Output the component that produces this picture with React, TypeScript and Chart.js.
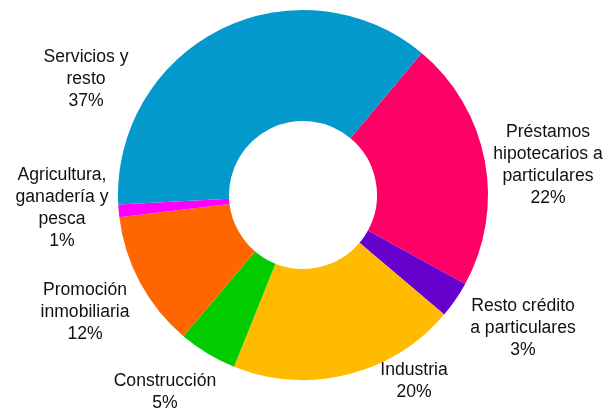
import React, { useEffect, useRef } from "react";
import { Chart, registerables } from "chart.js";

Chart.register(...registerables);

// Data (clockwise starting from the slice right after the top)
const categories: string[][] = [
  ["Préstamos", "hipotecarios a", "particulares"],
  ["Resto crédito", "a particulares"],
  ["Industria"],
  ["Construcción"],
  ["Promoción", "inmobiliaria"],
  ["Agricultura,", "ganadería y", "pesca"],
  ["Servicios y", "resto"],
];
const shares: number[] = [21.9, 3.2, 19.9, 5.1, 11.9, 1.1, 36.9];
const colors: string[] = ["#FF0066", "#6600CC", "#FFBB00", "#00CC00", "#FF6600", "#FF00FF", "#0399CC"];

// Label block centers (pixels in canvas)
const labelPos: [number, number][] = [
  [548, 165],
  [523, 328],
  [414, 381],
  [165, 392],
  [85, 312],
  [62, 208],
  [86, 79],
];

const labelPlugin = {
  id: "outerLabels",
  afterDraw(chart: any) {
    const ctx = chart.ctx;
    ctx.save();
    ctx.font = '17.6px "Liberation Sans", Arial, sans-serif';
    ctx.fillStyle = "#111";
    ctx.textAlign = "center";
    ctx.textBaseline = "middle";
    const lh = 22;
    categories.forEach((lines, i) => {
      const all = [...lines, Math.round(shares[i]) + "%"];
      const [cx, cy] = labelPos[i];
      const top = cy - ((all.length - 1) * lh) / 2;
      all.forEach((t, j) => ctx.fillText(t, cx, top + j * lh));
    });
    ctx.restore();
  },
};

export default function App() {
  const ref = useRef<HTMLCanvasElement>(null);
  useEffect(() => {
    const chart = new Chart(ref.current!, {
      type: "doughnut",
      data: {
        labels: categories.map((c) => c.join(" ")),
        datasets: [
          {
            data: shares,
            backgroundColor: colors,
            borderWidth: 0,
            hoverOffset: 0,
          },
        ],
      },
      options: {
        animation: false,
        responsive: false,
        rotation: 39.9,
        cutout: "40%",
        layout: { padding: { left: 118, right: 127, top: 10, bottom: 32 } },
        plugins: { legend: { display: false }, tooltip: { enabled: false } },
      },
      plugins: [labelPlugin],
    });
    return () => chart.destroy();
  }, []);
  return (
    <div style={{ position: "fixed", left: 0, top: 0, width: 615, height: 412, background: "#fff" }}>
      <canvas ref={ref} width={615} height={412} style={{ width: 615, height: 412, display: "block" }} />
    </div>
  );
}
